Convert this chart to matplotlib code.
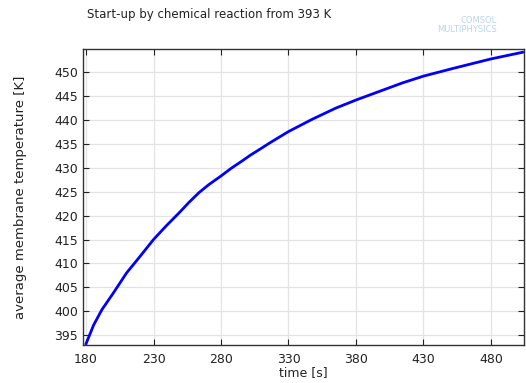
import numpy as np
import matplotlib.pyplot as plt

# time [s] and average membrane temperature [K]
time_s = [180.0, 185.6, 191.7, 200.2, 210.0, 219.8, 230.0, 239.2, 249.0, 256.0,
          263.6, 271.0, 280.0, 287.5, 295.4, 302.0, 308.8, 316.0, 330.0, 347.8,
          365.0, 380.0, 397.3, 414.6, 430.0, 451.7, 480.0, 503.5]
temp_K = [393.2, 397.1, 400.3, 403.8, 408.0, 411.4, 415.0, 417.8, 420.6, 422.7,
          424.8, 426.5, 428.3, 429.9, 431.4, 432.7, 433.9, 435.2, 437.6, 440.2,
          442.5, 444.2, 446.0, 447.8, 449.2, 450.8, 452.8, 454.2]
x_ticks = [180, 230, 280, 330, 380, 430, 480]
y_ticks = [395, 400, 405, 410, 415, 420, 425, 430, 435, 440, 445, 450]

plt.rcParams['font.family'] = ['DejaVu Sans']
fig = plt.figure(figsize=(5.26, 3.83), dpi=100)
ax = fig.add_axes([0.158, 0.099, 0.838, 0.772])

ax.plot(time_s, temp_K, color="#0000ff", lw=2.0)

ax.set_xlim(177.8, 504.5)
ax.set_ylim(392.9, 454.8)
ax.set_xticks(x_ticks)
ax.set_yticks(y_ticks)
ax.grid(True, color="#e3e3e3", lw=0.9)
ax.set_axisbelow(True)
ax.tick_params(direction="in", top=True, right=True, length=4, width=0.8,
               labelsize=9, colors="#222222")
ax.tick_params(axis="x", pad=6)
for s in ax.spines.values():
    s.set_color("#333333")
    s.set_linewidth(1.0)

ax.set_xlabel("time [s]", fontsize=9, labelpad=0, color="#222222")
ax.set_ylabel("average membrane temperature [K]", fontsize=9.5, labelpad=20, color="#222222")

fig.text(0.165, 0.963, "Start-up by chemical reaction from 393 K", fontsize=8.5,
         color="#222222", ha="left", va="center")
fig.text(0.945, 0.935, "COMSOL\nMULTIPHYSICS", fontsize=6, color="#b9d5ec",
         ha="right", va="center", linespacing=1.0)

fig.savefig("out.png", dpi=100)
